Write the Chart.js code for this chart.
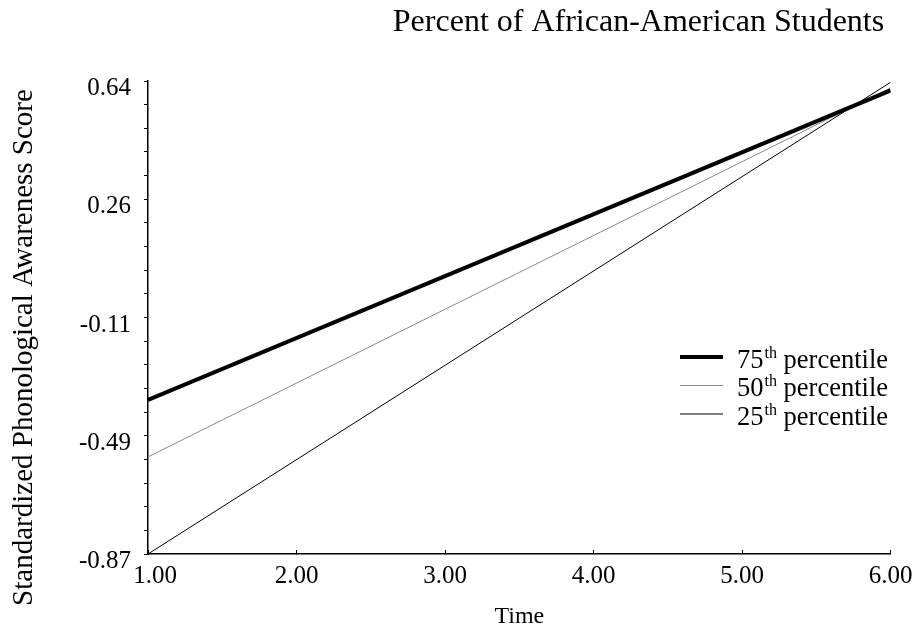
<!DOCTYPE html>
<html><head><meta charset="utf-8">
<script src="https://cdn.jsdelivr.net/npm/chart.js@4/dist/chart.umd.min.js"></script>
<style>html,body{margin:0;padding:0;background:#fff}#c{display:block}</style>
</head><body>
<canvas id="c" width="924" height="634"></canvas>
<script>
// ---- data ----
const chartTitle = 'Percent of African-American Students';
const xTitle = 'Time';
const yTitle = 'Standardized Phonological Awareness Score';
const times = [1, 6];
const p75 = [-0.378, 0.610];
const p50 = [-0.560, 0.618];
const p25 = [-0.870, 0.636];
const seriesOrdinals = ['75', '50', '25'];
const legendSuffix = 'th';
const legendWord = 'percentile';
const yTickLabels = ['-0.87', '-0.49', '-0.11', '0.26', '0.64'];
const xTickLabels = ['1.00', '2.00', '3.00', '4.00', '5.00', '6.00'];
const yMin = -0.87, yMax = 0.64;

const FONT = '"Liberation Serif", "Times New Roman", Times, serif';

function pts(arr) { return times.map((t, i) => ({ x: t, y: arr[i] })); }

// nudge the first x tick label right so it clears the lowest y label (as in the original)
const nudgePlugin = {
  id: 'nudgeFirstX',
  beforeDraw(chart) {
    try {
      const s = chart.scales.x;
      const items = s.getLabelItems(chart.chartArea);
      if (items && items[0] && !items[0]._nudged) {
        items[0].options.translation[0] += 7;
        items[0]._nudged = true;
      }
    } catch (e) {}
  }
};

const titlePlugin = {
  id: 'customText',
  afterDraw(chart) {
    const ctx = chart.ctx;
    ctx.save();
    ctx.fillStyle = '#000';
    // main title
    ctx.font = '32px ' + FONT;
    ctx.textAlign = 'center';
    ctx.textBaseline = 'alphabetic';
    ctx.fillText(chartTitle, 638.5, 31);
    // y title
    ctx.save();
    ctx.font = '29px ' + FONT;
    ctx.translate(32, 347.5);
    ctx.rotate(-Math.PI / 2);
    ctx.fillText(yTitle, 0, 0);
    ctx.restore();
    // legend
    const lx0 = 680, lx1 = 723, tx = 737;
    chart.data.datasets.forEach((ds, i) => {
      const y = 357 + i * 28.5;
      ctx.beginPath();
      ctx.strokeStyle = ds.borderColor;
      ctx.lineWidth = ds.borderWidth;
      ctx.moveTo(lx0, y); ctx.lineTo(lx1, y);
      ctx.stroke();
      ctx.textAlign = 'left';
      ctx.textBaseline = 'alphabetic';
      ctx.font = '26.5px ' + FONT;
      const base = y + 10.5;
      let x = tx;
      ctx.fillText(seriesOrdinals[i], x, base);
      x += ctx.measureText(seriesOrdinals[i]).width + 1;
      ctx.font = '16px ' + FONT;
      ctx.fillText(legendSuffix, x, base - 10);
      x += ctx.measureText(legendSuffix).width;
      ctx.font = '26.5px ' + FONT;
      x += ctx.measureText(' ').width;
      ctx.fillText(legendWord, x, base);
    });
    ctx.restore();
  }
};

new Chart(document.getElementById('c'), {
  type: 'line',
  data: {
    datasets: [
      { label: seriesOrdinals[0] + legendSuffix + ' ' + legendWord, data: pts(p75), borderColor: '#000', borderWidth: 4, pointRadius: 0, fill: false, tension: 0 },
      { label: seriesOrdinals[1] + legendSuffix + ' ' + legendWord, data: pts(p50), borderColor: '#8a8a8a', borderWidth: 1, pointRadius: 0, fill: false, tension: 0 },
      { label: seriesOrdinals[2] + legendSuffix + ' ' + legendWord, data: pts(p25), borderColor: '#000', borderWidth: 1, pointRadius: 0, fill: false, tension: 0 }
    ]
  },
  options: {
    responsive: false,
    animation: false,
    devicePixelRatio: 1,
    layout: { padding: { left: 0, right: 28, top: 81, bottom: 0 } },
    plugins: { legend: { display: false }, tooltip: { enabled: false }, title: { display: false } },
    scales: {
      x: {
        type: 'linear', min: times[0], max: times[times.length - 1],
        afterBuildTicks(s) { s.ticks = xTickLabels.map((l, i) => ({ value: times[0] + i })); },
        afterFit(s) { s.height = 80; },
        ticks: {
          autoSkip: false, maxRotation: 0, color: '#000', padding: 11.5,
          font: { family: FONT, size: 25 },
          callback(v) { const i = Math.round(v - times[0]); return xTickLabels[i] ?? ''; }
        },
        grid: { drawOnChartArea: false, tickLength: -4, color: '#000', tickWidth: 1 },
        border: { color: '#000', width: 1.5 },
        title: { display: true, text: xTitle, color: '#000', font: { family: FONT, size: 24 }, padding: { top: 0, bottom: 3 } }
      },
      y: {
        type: 'linear', min: yMin, max: yMax,
        afterBuildTicks(s) {
          const t = [];
          for (let i = 0; i <= 20; i++) t.push({ value: yMin + i * (yMax - yMin) / 20 });
          s.ticks = t;
        },
        afterFit(s) { s.width = 148; },
        ticks: {
          autoSkip: false, color: '#000', padding: 13, labelOffset: 7.5,
          font: { family: FONT, size: 25 },
          callback(v, i) { return i % 5 === 0 ? yTickLabels[i / 5] : ''; }
        },
        grid: { drawOnChartArea: false, tickLength: 4, color: '#000', tickWidth: 1 },
        border: { color: '#000', width: 1.5 }
      }
    }
  },
  plugins: [nudgePlugin, titlePlugin]
});
</script>
</body></html>
